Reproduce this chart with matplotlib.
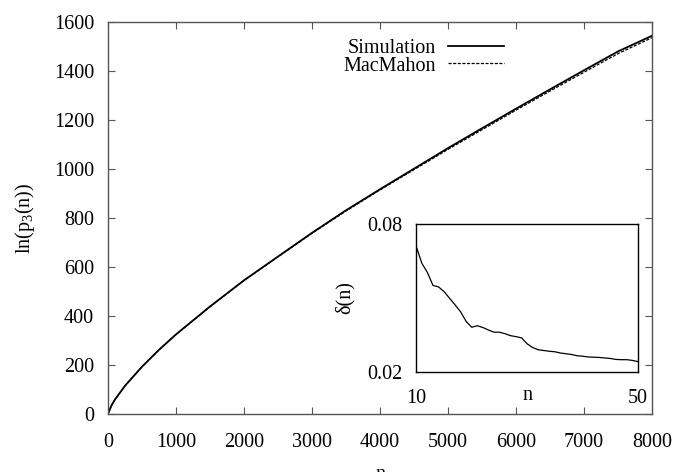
import matplotlib
matplotlib.use("Agg")
import matplotlib.pyplot as plt
import numpy as np

plt.rcParams['font.family'] = ['Liberation Serif', 'DejaVu Serif']
plt.rcParams['mathtext.fontset'] = 'custom'
plt.rcParams['mathtext.rm'] = 'Liberation Serif'
plt.rcParams['mathtext.it'] = 'Liberation Serif'

# main curves: ln p_3(n)
n_main = [0, 50, 100, 250, 500, 750, 1000, 1500, 2000, 2500, 3000, 3500,
          4000, 4500, 5000, 5500, 6000, 6500, 7000, 7500, 8000]
sim = [0, 34, 58, 115, 193, 262, 325, 439, 546, 643, 740, 832,
       918, 1002, 1086, 1167, 1247, 1326, 1404, 1481, 1545]
macmahon = [0, 34, 58, 115, 193, 262, 325, 438, 545, 642, 738, 829,
            915, 998, 1081, 1161, 1241, 1319, 1396, 1472, 1537]

# inset: delta(n)
n_ins = list(range(10, 51))
delta = [0.0707, 0.0640, 0.0603, 0.0551, 0.0545, 0.0526, 0.0499, 0.0472,
         0.0444, 0.0405, 0.0382, 0.0388, 0.0381, 0.0371, 0.0362, 0.0362,
         0.0356, 0.0348, 0.0344, 0.0339, 0.0315, 0.0300, 0.0291, 0.0288,
         0.0285, 0.0283, 0.0278, 0.0275, 0.0272, 0.0267, 0.0265, 0.0262,
         0.0261, 0.0260, 0.0258, 0.0256, 0.0252, 0.0251, 0.0251, 0.0248,
         0.0243]

fs = 14.5
fig = plt.figure(figsize=(6.74, 4.72), dpi=100)
ax = fig.add_axes([0.1602, 0.1229, 0.8072, 0.8299])
ax.plot(n_main, sim, color='black', linewidth=1.3, label='Simulation')
ax.plot(n_main, macmahon, color='black', linewidth=0.9, linestyle=(0, (2.5, 1.2)),
        label='MacMahon')
ax.set_xlim(0, 8000)
ax.set_ylim(0, 1600)
ax.set_xticks(np.arange(0, 8001, 1000))
ax.set_yticks(np.arange(0, 1601, 200))
ax.tick_params(direction='in', top=True, right=True, labelsize=fs, length=5,
               color='#555555')
ax.tick_params(axis='x', pad=14)
ax.tick_params(axis='y', pad=10)
for s in ax.spines.values():
    s.set_color('#555555')
    s.set_linewidth(1.0)
ax.set_xlabel('n', fontsize=fs, labelpad=9)
ax.set_ylabel(r'ln(p$_3$(n))', fontsize=fs, labelpad=12)
leg = ax.legend(loc='upper left', bbox_to_anchor=(0.418, 0.978), frameon=False,
                fontsize=fs, markerfirst=False, handlelength=2.8,
                handletextpad=0.6, labelspacing=-0.08, borderaxespad=0)
for t in leg.get_texts():
    t.set_ha('right')

# inset
axi = fig.add_axes([0.6177, 0.2112, 0.3289, 0.3148])
axi.plot(n_ins, delta, color='black', linewidth=0.9)
axi.set_xlim(10, 50)
axi.set_ylim(0.02, 0.08)
axi.set_xticks([10, 50])
axi.set_yticks([0.02, 0.08])
axi.set_yticklabels(['0.02', '0.08'])
axi.tick_params(length=0, labelsize=fs)
axi.tick_params(axis='x', pad=12)
axi.tick_params(axis='y', pad=10)
for s in axi.spines.values():
    s.set_color('black')
    s.set_linewidth(1.0)
axi.set_xlabel('n', fontsize=fs, labelpad=-16)
axi.set_ylabel('δ(n)', fontsize=fs, labelpad=9)

fig.savefig('out.png', dpi=100)
